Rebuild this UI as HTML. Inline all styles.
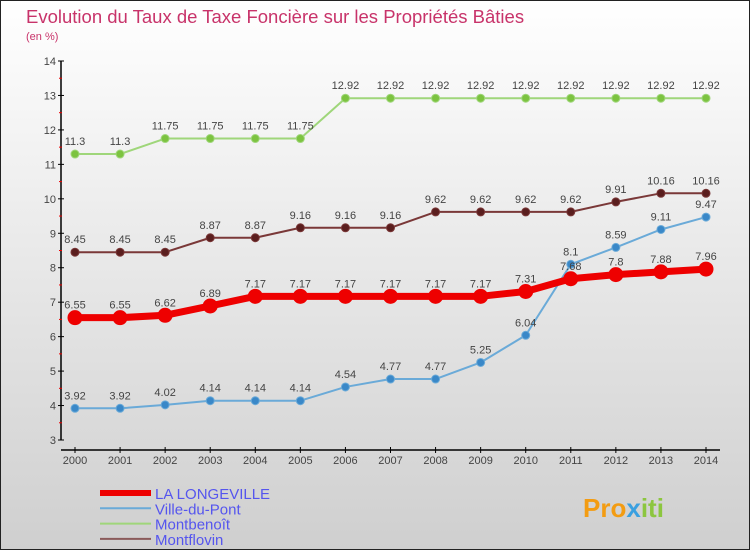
<!DOCTYPE html>
<html><head><meta charset="utf-8"><style>
body{margin:0;width:750px;height:550px;overflow:hidden;font-family:"Liberation Sans",sans-serif}
svg{display:block}
</style></head><body>
<svg id="c" width="750" height="550" xmlns="http://www.w3.org/2000/svg">
<defs><linearGradient id="bg" x1="0" y1="0" x2="0" y2="1"><stop offset="0" stop-color="#ffffff"/><stop offset="1" stop-color="#cfcfcf"/></linearGradient></defs>
<rect x="0.5" y="0.5" width="749" height="549" fill="url(#bg)" stroke="#222"/>
<text x="26" y="23" font-size="18.5" fill="#c8336a">Evolution du Taux de Taxe Foncière sur les Propriétés Bâties</text>
<text x="26" y="40" font-size="11" fill="#c8336a">(en %)</text>
<g id="axes"></g>
<g id="series"></g>
<g id="legend"></g>
<text x="583" y="517" font-size="26" font-weight="bold" fill="#f39c12">Pro<tspan fill="#3aa0e0">x</tspan><tspan fill="#8cc63f">iti</tspan></text>
</svg>
<script>
const years=[2000,2001,2002,2003,2004,2005,2006,2007,2008,2009,2010,2011,2012,2013,2014];
const laLongeville=[6.55,6.55,6.62,6.89,7.17,7.17,7.17,7.17,7.17,7.17,7.31,7.68,7.8,7.88,7.96];
const villeDuPont=[3.92,3.92,4.02,4.14,4.14,4.14,4.54,4.77,4.77,5.25,6.04,8.1,8.59,9.11,9.47];
const montbenoit=[11.3,11.3,11.75,11.75,11.75,11.75,12.92,12.92,12.92,12.92,12.92,12.92,12.92,12.92,12.92];
const montflovin=[8.45,8.45,8.45,8.87,8.87,9.16,9.16,9.16,9.62,9.62,9.62,9.62,9.91,10.16,10.16];
const yTicks=[3,4,5,6,7,8,9,10,11,12,13,14];
const NS="http://www.w3.org/2000/svg";
const x=i=>75+i*(706-75)/(years.length-1);
const y=v=>440-(v-3)*(440-61)/11;
function mk(tag,attrs,parent,text){const e=document.createElementNS(NS,tag);for(const k in attrs)e.setAttribute(k,attrs[k]);if(text!==undefined)e.textContent=text;parent.appendChild(e);return e;}
const axes=document.getElementById('axes');
let ya=mk('line',{x1:61,y1:y(14),x2:61,y2:y(3),stroke:'#000','stroke-width':1.5},axes);


yTicks.forEach(t=>{
  mk('line',{x1:58,y1:y(t),x2:64,y2:y(t),stroke:'#000'},axes);
  let l=mk('text',{x:56,y:y(t)+4,'font-size':11,fill:'#444','text-anchor':'end'},axes,t);
  
  
  if(t<14){mk('line',{x1:59,y1:y(t+0.5),x2:62,y2:y(t+0.5),stroke:'#e00'},axes);}
});
let xa=mk('line',{x1:61,y1:450,x2:720,y2:450,stroke:'#000','stroke-width':1.5},axes);


years.forEach((yr,i)=>{
  mk('line',{x1:x(i),y1:447,x2:x(i),y2:453,stroke:'#000'},axes);
  let l=mk('text',{x:x(i),y:464,'font-size':11,fill:'#444','text-anchor':'middle'},axes,yr);
  
  
});
const sg=document.getElementById('series');
function series(vals,color,dot,w,r,name){
  const g=mk('g',{},sg);
  
  
  mk('polyline',{points:vals.map((v,i)=>x(i)+','+y(v)).join(' '),fill:'none',stroke:color,'stroke-width':w,'stroke-linejoin':'round'},g);
  vals.forEach((v,i)=>{
    const c=mk('circle',{cx:x(i),cy:y(v),r:r,fill:dot,stroke:color,'stroke-width':1},g);
    
    
    const t=mk('text',{x:x(i),y:y(v)-9,'font-size':11,fill:'#444','text-anchor':'middle'},g,v);
    
    
  });
}
series(montbenoit,'#9fd67a','#7cc340',2,4,'montbenoit-series');
series(montflovin,'#7a3838','#5a1e1e',2,4,'montflovin-series');
series(villeDuPont,'#6aaad8','#3a88c8',2,4,'ville-du-pont-series');
series(laLongeville,'#ee0000','#ee0000',7,7,'la-longeville-series');
const lg=document.getElementById('legend');
const leg=[['LA LONGEVILLE','#ee0000',6],['Ville-du-Pont','#6aaad8',2],['Montbenoît','#9fd67a',2],['Montflovin','#8a5a5a',2]];
leg.forEach((e,i)=>{
  const g=mk('g',{},lg);
  
  
  const yy=493+i*15.3;
  mk('line',{x1:100,y1:yy,x2:151,y2:yy,stroke:e[1],'stroke-width':e[2]},g);
  mk('text',{x:155,y:yy+6,'font-size':15,fill:'#5555ee'},g,e[0]);
});
</script>
</body></html>
